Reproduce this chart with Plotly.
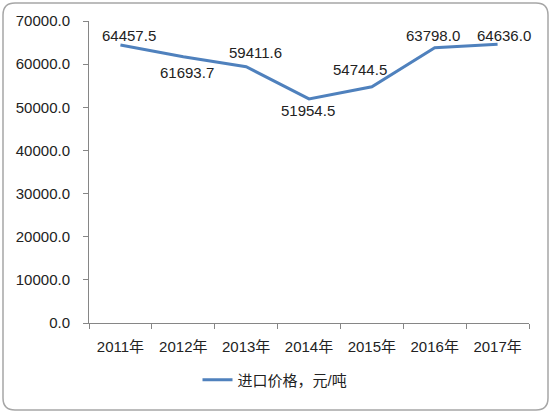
import plotly.graph_objects as go

years = ["2011年", "2012年", "2013年", "2014年", "2015年", "2016年", "2017年"]
prices = [64457.5, 61693.7, 59411.6, 51954.5, 54744.5, 63798.0, 64636.0]
y_ticks = [0, 10000, 20000, 30000, 40000, 50000, 60000, 70000]

# pixel offsets of each data label from its point (x right, y up)
label_dx = [9, 4, 9, -1, -12, -2, 6]
label_dy = [9, -16, 14, -12, 17, 12, 9]

W, H = 551, 413
L, R, T, B = 89, 22, 21, 90
pw, ph = W - L - R, H - T - B

FONT = "Liberation Sans, Arial, Noto Sans CJK SC, sans-serif"
TEXT = "#222222"
AXIS = "#868686"


def px(x):
    return (x - L) / pw


def py(y):
    return (H - B - y) / ph


def rounded_box(x0, y0, x1, y1, r):
    # rounded chart border drawn in paper coords
    pts = [
        f"M {px(x0 + r)},{py(y0)}",
        f"L {px(x1 - r)},{py(y0)}",
        f"Q {px(x1)},{py(y0)} {px(x1)},{py(y0 + r)}",
        f"L {px(x1)},{py(y1 - r)}",
        f"Q {px(x1)},{py(y1)} {px(x1 - r)},{py(y1)}",
        f"L {px(x0 + r)},{py(y1)}",
        f"Q {px(x0)},{py(y1)} {px(x0)},{py(y1 - r)}",
        f"L {px(x0)},{py(y0 + r)}",
        f"Q {px(x0)},{py(y0)} {px(x0 + r)},{py(y0)}",
        "Z",
    ]
    return " ".join(pts)


fig = go.Figure()
fig.add_trace(
    go.Scatter(
        x=years,
        y=prices,
        mode="lines",
        name="进口价格，元/吨",
        line=dict(color="#4F81BD", width=3),
    )
)

for yr, v, dx, dy in zip(years, prices, label_dx, label_dy):
    fig.add_annotation(
        x=yr,
        y=v,
        text=f"{v:.1f}",
        showarrow=False,
        xshift=dx,
        yshift=dy,
        font=dict(family=FONT, size=15, color=TEXT),
    )

fig.add_shape(
    type="path",
    xref="paper",
    yref="paper",
    path=rounded_box(3, 3, 548, 410, 12),
    line=dict(color="#A6A6A6", width=1.5),
    layer="below",
)

fig.update_layout(
    width=W,
    height=H,
    margin=dict(l=L, r=R, t=T, b=B),
    paper_bgcolor="white",
    plot_bgcolor="white",
    font=dict(family=FONT, size=15, color=TEXT),
    showlegend=True,
    legend=dict(
        orientation="h",
        x=px(275),
        xanchor="center",
        y=py(380),
        yanchor="middle",
        font=dict(size=15),
    ),
)
fig.update_xaxes(
    type="category",
    range=[-0.5, len(years) - 0.5],
    showgrid=False,
    showline=True,
    linecolor=AXIS,
    ticks="outside",
    tickson="boundaries",
    ticklen=5,
    tickcolor=AXIS,
    tickfont=dict(size=15),
    ticklabelstandoff=10,
)
fig.update_yaxes(
    range=[0, 70000],
    tickvals=y_ticks,
    tickformat=".1f",
    showgrid=False,
    zeroline=False,
    showline=True,
    linecolor=AXIS,
    ticks="outside",
    ticklen=5,
    tickcolor=AXIS,
    tickfont=dict(size=15),
    ticklabelstandoff=10,
)

# drop the default 8px body margin so the figure sits at the window origin
fig.write_html(
    "out.html",
    config={"displayModeBar": False},
    post_script="document.body.style.margin='0';",
)
